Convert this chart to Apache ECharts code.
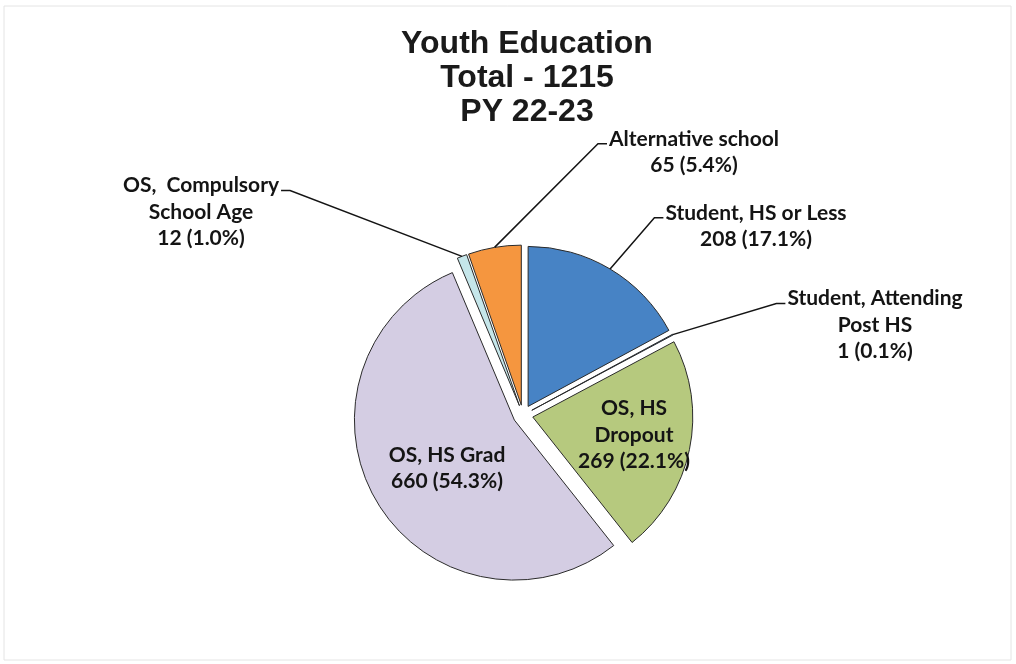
<!DOCTYPE html>
<html>
<head>
  <meta charset="utf-8">
  <title>Youth Education</title>
  <script src="https://cdn.jsdelivr.net/npm/echarts@6/dist/echarts.min.js"></script>
  <style>
    html, body { margin: 0; padding: 0; background: #fff; }
    #main { width: 1016px; height: 664px; }
  </style>
</head>
<body>
  <div id="main"></div>
  <script>
    // values
    var categories = ['Student, HS or Less', 'Student, Attending\nPost HS', 'OS, HS\nDropout',
      'OS, HS Grad', 'OS,  Compulsory\nSchool Age', 'Alternative school'];
    var values = [208, 1, 269, 660, 12, 65];
    var percents = ['17.1%', '0.1%', '22.1%', '54.3%', '1.0%', '5.4%'];

    var colors = ['#4783c5', '#4783c5', '#b6c97e', '#d4cde3', '#c5e6ea', '#f5963f'];
    // where each label block is centred
    var labelPos = [[756, 226], [875, 325], [634, 435], [447, 468], [201, 212], [694, 152]];
    var insideLabel = [false, false, true, true, false, false];

    var CENTER = [523, 415];
    var R = 160;
    var OFFSET = 10;
    var LINE_H = 26.5;

    var chart = echarts.init(document.getElementById('main'));

    // exploded slices, no labels
    var pieData = values.map(function (v, i) {
      return { name: categories[i], value: v, selected: true, itemStyle: { color: colors[i] } };
    });
    // same slices, invisible, only carry the labels and leader lines
    // (radius = R + OFFSET so the leader starts on the exploded edge)
    var labelData = values.map(function (v, i) {
      return { name: categories[i], value: v, labelLine: { show: !insideLabel[i] } };
    });

    chart.setOption({
      animation: false,
      title: {
        text: 'Youth Education\nTotal - 1215\nPY 22-23',
        left: 522,
        top: 22,
        textAlign: 'center',
        textStyle: {
          fontFamily: 'Liberation Sans',
          fontWeight: 'bold',
          fontSize: 32,
          lineHeight: 34,
          color: '#1a1a1a'
        }
      },
      graphic: [{
        type: 'rect',
        silent: true,
        shape: { x: 4, y: 6, width: 1007, height: 654 },
        style: { fill: 'none', stroke: '#e4e4e4', lineWidth: 1 }
      }],
      series: [{
        type: 'pie',
        center: CENTER,
        radius: R,
        startAngle: 90,
        selectedMode: 'multiple',
        selectedOffset: OFFSET,
        itemStyle: { borderColor: '#2a2a2a', borderWidth: 1 },
        label: { show: false },
        labelLine: { show: false },
        emphasis: { disabled: true },
        data: pieData
      }, {
        type: 'pie',
        center: CENTER,
        radius: R + OFFSET,
        startAngle: 90,
        silent: true,
        avoidLabelOverlap: false,
        z: 3,
        itemStyle: { color: 'rgba(0,0,0,0)', borderWidth: 0 },
        label: {
          show: true,
          fontFamily: 'Lato',
          fontWeight: 'bold',
          fontSize: 21,
          lineHeight: LINE_H,
          color: '#141414',
          formatter: function (p) {
            return p.name + '\n' + p.value + ' (' + percents[p.dataIndex] + ')';
          }
        },
        labelLine: {
          show: true,
          lineStyle: { color: '#141414', width: 1.5 }
        },
        labelLayout: function (params) {
          var i = params.dataIndex;
          var pos = labelPos[i];
          var out = { x: pos[0], y: pos[1], align: 'center', verticalAlign: 'middle' };
          var pts = params.labelLinePoints;
          if (pts && !insideLabel[i]) {
            var w = params.labelRect.width;
            var h = params.labelRect.height;
            // label to the right of the slice -> hook onto its left edge
            var side = pos[0] > pts[0][0] ? -1 : 1;
            var ex = pos[0] + side * (w / 2 + 2);
            var ey = pos[1] - h / 2 + LINE_H / 2 + 5;
            out.labelLinePoints = [pts[0], [ex + side * 9, ey], [ex, ey]];
          }
          return out;
        },
        emphasis: { disabled: true },
        data: labelData
      }]
    });
  </script>
</body>
</html>
